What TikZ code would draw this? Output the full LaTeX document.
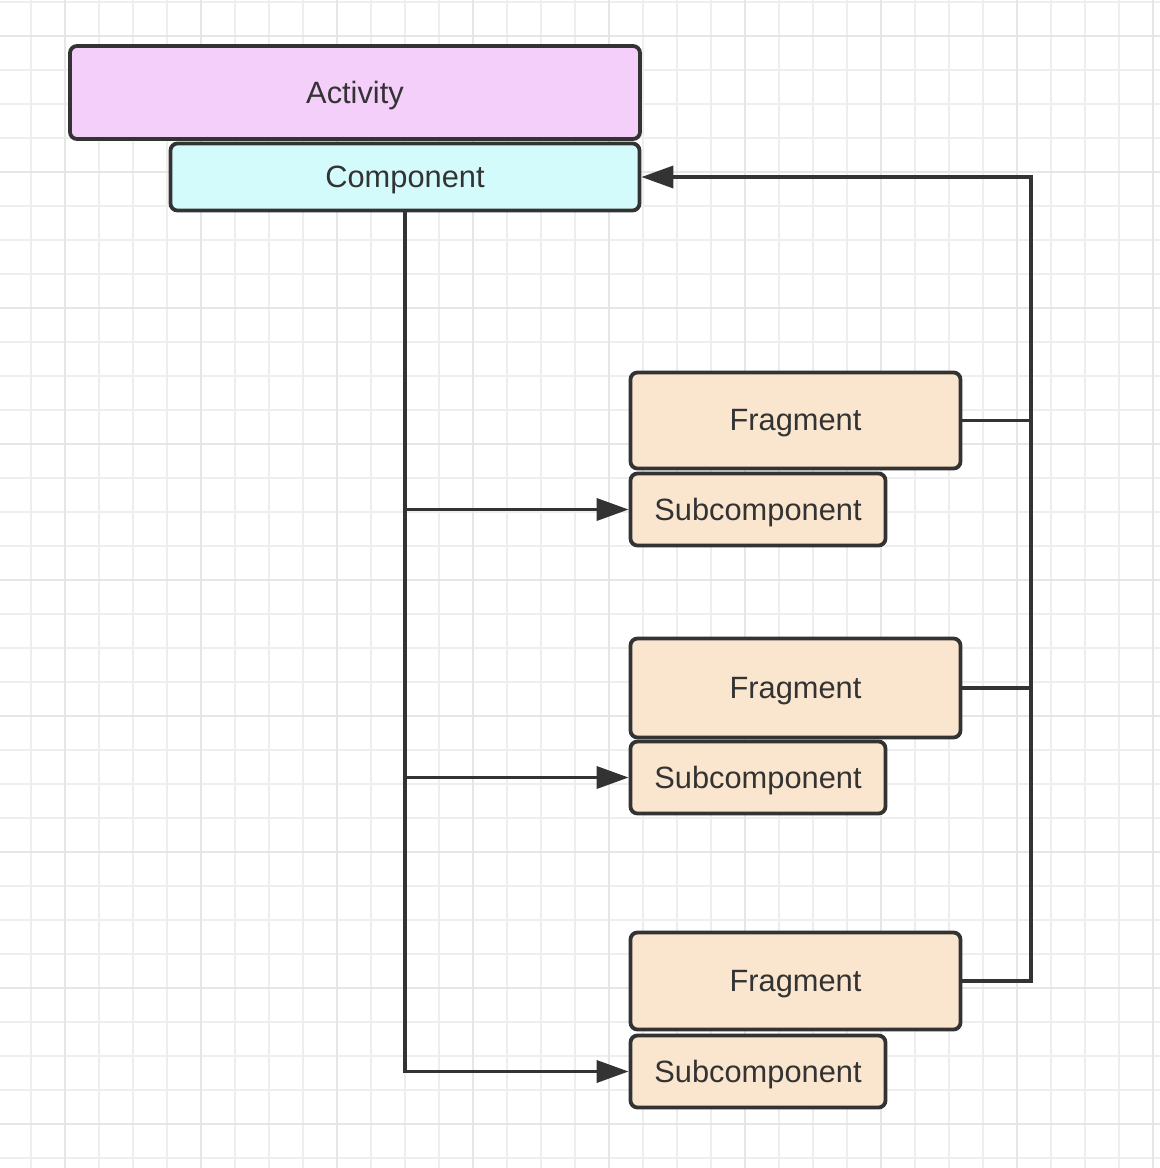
\documentclass[tikz,border=0pt]{standalone}
\usepackage{fontspec}
\setmainfont{Liberation Sans}
\usetikzlibrary{arrows.meta}
\definecolor{ink}{HTML}{333333}
\definecolor{actfill}{HTML}{F4CFFA}
\definecolor{compfill}{HTML}{D4FBFB}
\definecolor{fragfill}{HTML}{FAE5CE}
\definecolor{gridminor}{HTML}{EEEEEE}
\definecolor{gridmajor}{HTML}{E6E6E6}
\tikzset{
  box/.style={draw=ink, line width=1.9pt, rounded corners=3.5pt, inner sep=0pt,
    text=ink, font=\fontsize{15.4}{17}\selectfont},
  lbl/.style={text=ink, font=\fontsize{15.4}{17}\selectfont, inner sep=0pt, yshift=-1.5pt},
  conn/.style={draw=ink, line width=1.8pt},
  arr/.style={conn, -{Triangle[length=16pt, width=11pt]}},
}
\begin{document}
\begin{tikzpicture}[x=0.5pt, y=-0.5pt]
\useasboundingbox (0,0) rectangle (1160,1168);
\fill[white] (0,0) rectangle (1160,1168);
% grid
\foreach \i in {-3,31,...,1160} \draw[gridminor, line width=0.8pt] (\i,0) -- (\i,1168);
\foreach \j in {2,36,...,1168} \draw[gridminor, line width=0.8pt] (0,\j) -- (1160,\j);
\foreach \i in {65,201,...,1160} \draw[gridmajor, line width=1.1pt] (\i,0) -- (\i,1168);
\foreach \j in {36,172,...,1168} \draw[gridmajor, line width=1.1pt] (0,\j) -- (1160,\j);
% nodes
\node[box, fill=actfill, minimum width=285pt, minimum height=46.5pt] (act) at (355,92.5) {};
\node[box, fill=compfill, minimum width=234.5pt, minimum height=33.5pt] (comp) at (405,177) {};
\node[box, fill=fragfill, minimum width=165pt, minimum height=48pt] (frag1) at (795.5,420.5) {};
\node[box, fill=fragfill, minimum width=127.5pt, minimum height=36pt] (sub1) at (758,509.5) {};
\node[box, fill=fragfill, minimum width=165pt, minimum height=49.5pt] (frag2) at (795.5,688) {};
\node[box, fill=fragfill, minimum width=127.5pt, minimum height=36pt] (sub2) at (758,777.5) {};
\node[box, fill=fragfill, minimum width=165pt, minimum height=48.5pt] (frag3) at (795.5,981) {};
\node[box, fill=fragfill, minimum width=127.5pt, minimum height=36pt] (sub3) at (758,1071.5) {};
% labels
\node[lbl] (actl) at (act.center) {Activity};
\node[lbl] (compl) at (comp.center) {Component};
\node[lbl] (frag1l) at (frag1.center) {Fragment};
\node[lbl] (sub1l) at (sub1.center) {Subcomponent};
\node[lbl] (frag2l) at (frag2.center) {Fragment};
\node[lbl] (sub2l) at (sub2.center) {Subcomponent};
\node[lbl] (frag3l) at (frag3.center) {Fragment};
\node[lbl] (sub3l) at (sub3.center) {Subcomponent};
% bus coordinate
\coordinate (bus) at (1031,0);
% left trunk
\draw[arr] (comp.south) -- (comp.south |- sub3.west) -- (sub3.west);
\draw[arr] (comp.south |- sub1.west) -- (sub1.west);
\draw[arr] (comp.south |- sub2.west) -- (sub2.west);
% right bus
\draw[arr] (frag3.east) -- (bus |- frag3.east) -- (bus |- comp.east) -- (comp.east);
\draw[conn] (frag1.east) -- (bus |- frag1.east);
\draw[conn] (frag2.east) -- (bus |- frag2.east);
\end{tikzpicture}
\end{document}
